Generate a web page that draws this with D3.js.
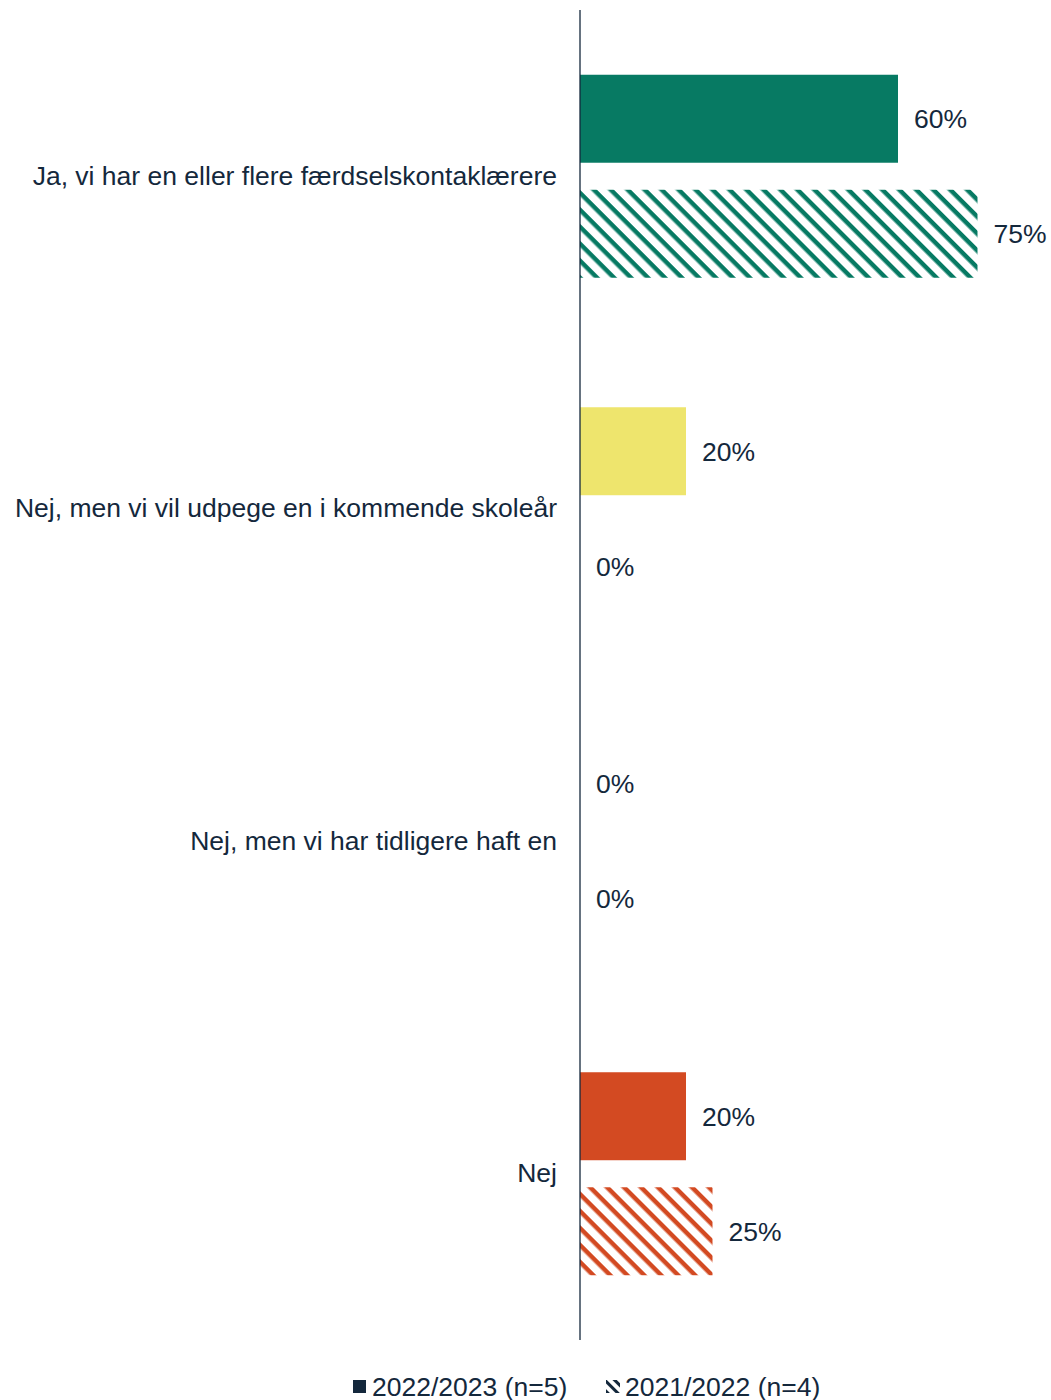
<!DOCTYPE html>
<html>
<head>
<meta charset="utf-8">
<script src="https://cdn.jsdelivr.net/npm/d3@7"></script>
<style>
  body { margin: 0; background: #fff; }
  svg text { font-family: "Liberation Sans", Arial, sans-serif; fill: #14283c; }
</style>
</head>
<body>
<div id="chart"></div>
<script>
// Data
const categories = [
  "Ja, vi har en eller flere færdselskontaklærere",
  "Nej, men vi vil udpege en i kommende skoleår",
  "Nej, men vi har tidligere haft en",
  "Nej"
];
const seriesNames = ["2022/2023 (n=5)", "2021/2022 (n=4)"];
const values2022 = [60, 20, 0, 20];
const values2021 = [75, 0, 0, 25];
const categoryColors = ["#077a63", "#eee56d", "#0b6e4f", "#d34a22"];

const width = 1051;
const height = 1400;
const margin = { top: 10, right: 0, bottom: 60, left: 580 };
const fontSize = "26.5px";

const svg = d3.select("#chart")
  .append("svg")
  .attr("width", width)
  .attr("height", height);

// Hatch patterns, one per category colour ("\" stripes)
const defs = svg.append("defs");
categoryColors.forEach((c, i) => {
  const p = defs.append("pattern")
    .attr("id", "hatch" + i)
    .attr("patternUnits", "userSpaceOnUse")
    .attr("width", 12)
    .attr("height", 12)
    .attr("patternTransform", "rotate(45)");
  p.append("rect")
    .attr("width", 12).attr("height", 12).attr("fill", "#fff");
  p.append("rect")
    .attr("x", 0).attr("y", 0)
    .attr("width", 12).attr("height", 4.5)
    .attr("fill", c);
});
defs.append("pattern")
  .attr("id", "hatchLegend")
  .attr("patternUnits", "userSpaceOnUse")
  .attr("width", 7).attr("height", 7)
  .attr("patternTransform", "rotate(45)")
  .append("rect")
  .attr("width", 7).attr("height", 3)
  .attr("fill", "#14283c");

const x = d3.scaleLinear()
  .domain([0, 100])
  .range([margin.left, margin.left + 530]);

const y = d3.scaleBand()
  .domain(categories)
  .range([margin.top, height - margin.bottom])
  .paddingInner(0)
  .paddingOuter(0);

// inner band for the two series
const y2 = d3.scaleBand()
  .domain([0, 1])
  .range([0, y.bandwidth()])
  .paddingInner(0.235)
  .paddingOuter(0.563);

const rows = [];
categories.forEach((cat, i) => {
  rows.push({ cat, i, s: 0, v: values2022[i] });
  rows.push({ cat, i, s: 1, v: values2021[i] });
});

const bars = svg.append("g");
bars.selectAll("rect")
  .data(rows)
  .join("rect")
  .attr("x", x(0))
  .attr("y", d => y(d.cat) + y2(d.s))
  .attr("width", d => x(d.v) - x(0))
  .attr("height", y2.bandwidth())
  .attr("fill", d => d.s === 0 ? categoryColors[d.i] : `url(#hatch${d.i})`);

// value labels
svg.append("g")
  .selectAll("text")
  .data(rows)
  .join("text")
  .attr("x", d => x(d.v) + 16)
  .attr("y", d => y(d.cat) + y2(d.s) + y2.bandwidth() / 2)
  .attr("dy", "0.35em")
  .style("font-size", fontSize)
  .text(d => d.v + "%");

// category axis
const axis = svg.append("g")
  .attr("transform", `translate(${x(0)},0)`)
  .call(d3.axisLeft(y).tickSize(0).tickPadding(23));
axis.select(".domain")
  .attr("stroke", "#14283c")
  .attr("stroke-width", 1.3)
  .attr("d", `M0,${margin.top}V${height - margin.bottom}`);
axis.selectAll(".tick text")
  .style("font-size", fontSize)
  .style("font-family", "Liberation Sans, Arial, sans-serif")
  .attr("fill", "#14283c");

// legend
const legend = svg.append("g").attr("transform", "translate(0,1387)");
legend.append("rect")
  .attr("x", 353).attr("y", -7).attr("width", 13).attr("height", 13)
  .attr("fill", "#14283c");
legend.append("text")
  .attr("x", 372).attr("dy", "0.35em")
  .style("font-size", fontSize)
  .text(seriesNames[0]);
legend.append("rect")
  .attr("x", 606).attr("y", -7).attr("width", 14).attr("height", 13)
  .attr("fill", "url(#hatchLegend)");
legend.append("text")
  .attr("x", 625).attr("dy", "0.35em")
  .style("font-size", fontSize)
  .text(seriesNames[1]);
</script>
</body>
</html>
